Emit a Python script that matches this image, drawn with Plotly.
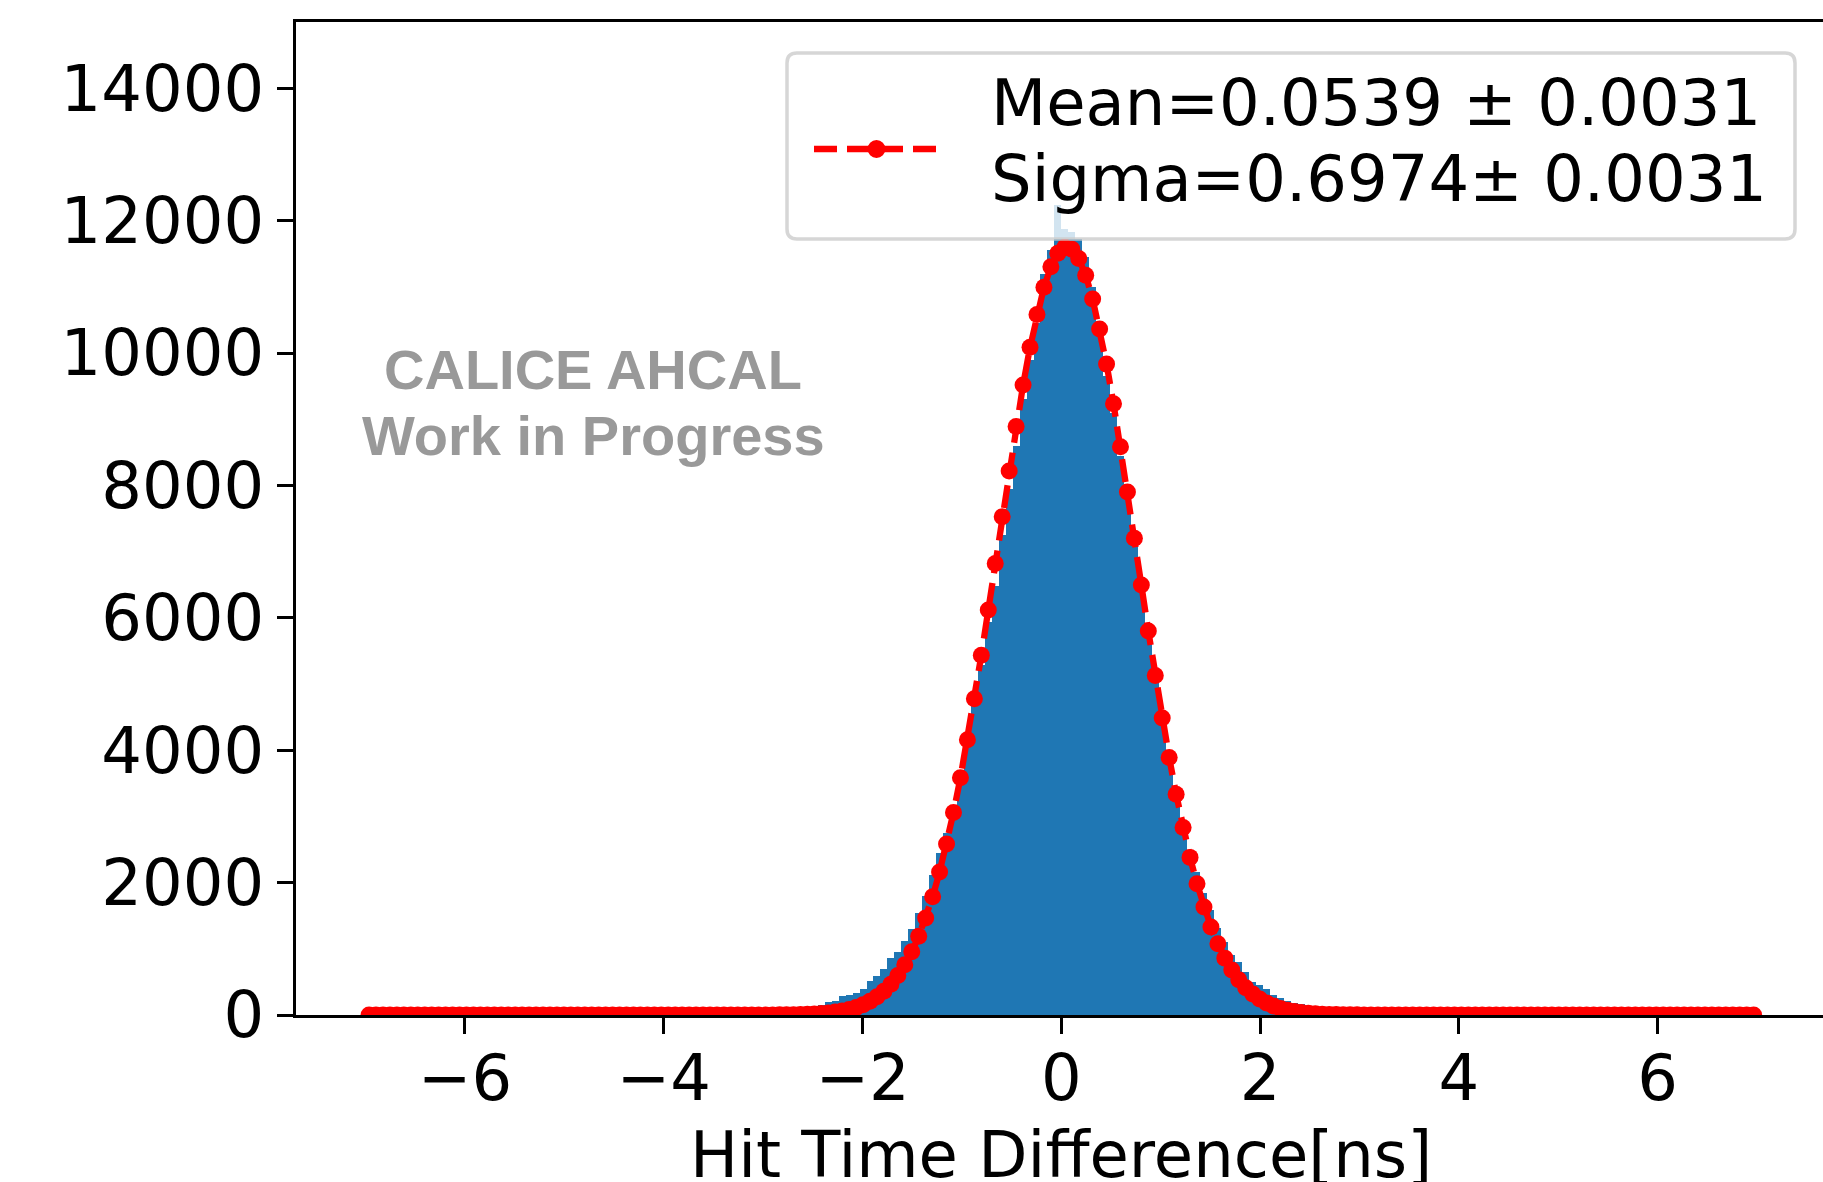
import plotly.graph_objects as go

# ---------------------------------------------------------------------------
# Data: hit time difference histogram (200 bins on [-7, 7] ns) and Gaussian fit
# ---------------------------------------------------------------------------
BIN_LO, BIN_HI, N_BINS = -7.0, 7.0, 200

hist_counts = [
    0, 0, 0, 0, 0, 0, 0, 0, 0, 0,
    0, 0, 0, 0, 0, 0, 1, 0, 0, 1,
    0, 1, 1, 1, 1, 2, 2, 2, 3, 3,
    4, 4, 5, 5, 6, 6, 7, 8, 8, 9,
    10, 11, 12, 13, 15, 16, 18, 20, 22, 25,
    28, 31, 35, 39, 44, 49, 55, 62, 70, 79,
    88, 98, 108, 120, 135, 155, 195, 212, 285, 300,
    335, 390, 515, 590, 690, 856, 955, 1118, 1294, 1536,
    1797, 2115, 2442, 2750, 3150, 3600, 4050, 4700, 5290, 5940,
    6480, 7250, 7950, 8600, 9300, 9900, 10450, 11200, 11550, 12240,
    11880, 11830, 11720, 11450, 11000, 10300, 9650, 9100, 8450, 7800,
    7100, 6420, 5750, 5100, 4480, 3900, 3360, 2880, 2450, 2165,
    1850, 1586, 1320, 1100, 906, 806, 650, 505, 450, 400,
    300, 250, 205, 180, 160, 135, 112, 95, 80, 68,
    58, 50, 43, 37, 32, 28, 24, 21, 18, 16,
    14, 12, 11, 10, 9, 8, 7, 6, 6, 5,
    5, 4, 4, 3, 3, 3, 2, 2, 2, 2,
    1, 1, 1, 1, 0, 1, 1, 0, 1, 0,
    0, 1, 0, 0, 0, 1, 0, 0, 0, 0,
    0, 0, 0, 0, 0, 0, 0, 0, 0, 0,
]

fit_values = [
    0, 0, 0, 0, 0, 0, 0, 0, 0, 0,
    0, 0, 0, 0, 0, 0, 0, 0, 0, 0,
    0, 0, 0, 0, 0, 0, 0, 0, 0, 0,
    0, 0, 0, 0, 0, 0, 0, 0, 0, 0,
    0, 0, 0, 0, 0, 0, 0, 0, 0, 0,
    0, 0, 0, 0, 0, 0, 0, 0, 1, 2,
    3, 5, 7, 11, 15, 22, 31, 44, 61, 84,
    115, 155, 207, 274, 359, 465, 597, 758, 954, 1188,
    1464, 1787, 2159, 2582, 3058, 3584, 4159, 4778, 5434, 6118,
    6819, 7525, 8219, 8889, 9516, 10086, 10582, 10992, 11303, 11506,
    11596, 11569, 11426, 11173, 10815, 10364, 9832, 9234, 8585, 7902,
    7200, 6495, 5800, 5128, 4488, 3889, 3336, 2832, 2381, 1982,
    1632, 1331, 1075, 859, 680, 533, 413, 317, 241, 181,
    135, 100, 73, 53, 38, 27, 19, 13, 9, 6,
    4, 3, 2, 1, 0, 0, 0, 0, 0, 0,
    0, 0, 0, 0, 0, 0, 0, 0, 0, 0,
    0, 0, 0, 0, 0, 0, 0, 0, 0, 0,
    0, 0, 0, 0, 0, 0, 0, 0, 0, 0,
    0, 0, 0, 0, 0, 0, 0, 0, 0, 0,
    0, 0, 0, 0, 0, 0, 0, 0, 0, 0,
]

x_tick_vals = [-6, -4, -2, 0, 2, 4, 6]
x_tick_text = ["\u22126", "\u22124", "\u22122", "0", "2", "4", "6"]
y_tick_vals = [0, 2000, 4000, 6000, 8000, 10000, 12000, 14000]
y_tick_text = ["0", "2000", "4000", "6000", "8000", "10000", "12000", "14000"]

fit_mean, fit_mean_err = "0.0539", "0.0031"
fit_sigma, fit_sigma_err = "0.6974", "0.0031"
x_title = "Hit Time Difference[ns]"
watermark_lines = ["CALICE AHCAL", "Work in Progress"]

bin_width = (BIN_HI - BIN_LO) / N_BINS
bin_centers = [BIN_LO + (i + 0.5) * bin_width for i in range(N_BINS)]

# ---------------------------------------------------------------------------
# Page geometry (pixels)
# ---------------------------------------------------------------------------
W, H = 1823, 1182
ML, MR, MT, MB = 296, 0, 22, 167
PW, PH = W - ML - MR, H - MT - MB
FONT = "DejaVu Sans"
FS = 64


def px_x(x):
    return (x - ML) / PW


def px_y(y):
    return (MT + PH - y) / PH


fig = go.Figure()

fig.add_trace(go.Bar(
    x=bin_centers, y=hist_counts, width=bin_width,
    marker=dict(color="#1f77b4", line=dict(width=0)),
    showlegend=False, hoverinfo="skip",
))

fig.add_trace(go.Scatter(
    x=bin_centers, y=fit_values, mode="lines+markers",
    line=dict(color="#ff0000", width=6.3, dash="23px,10px"),
    marker=dict(color="#ff0000", size=17, line=dict(width=0)),
    showlegend=False, hoverinfo="skip",
))

# ---------------------------------------------------------------------------
# Legend box drawn by hand (rounded frame, translucent white face)
# ---------------------------------------------------------------------------
bx0, by0, bx1, by1, rad = 787, 53, 1795, 239, 10


def pt(x, y):
    return f"{px_x(x):.6f},{px_y(y):.6f}"


frame_path = (
    f"M{pt(bx0 + rad, by0)} L{pt(bx1 - rad, by0)} Q{pt(bx1, by0)} {pt(bx1, by0 + rad)} "
    f"L{pt(bx1, by1 - rad)} Q{pt(bx1, by1)} {pt(bx1 - rad, by1)} "
    f"L{pt(bx0 + rad, by1)} Q{pt(bx0, by1)} {pt(bx0, by1 - rad)} "
    f"L{pt(bx0, by0 + rad)} Q{pt(bx0, by0)} {pt(bx0 + rad, by0)} Z"
)

handle_r = 9
shapes = [
    dict(type="path", path=frame_path, xref="paper", yref="paper", layer="above",
         fillcolor="rgba(255,255,255,0.8)",
         line=dict(color="rgba(204,204,204,0.8)", width=3.5)),
    dict(type="line", xref="paper", yref="paper", layer="above",
         x0=px_x(814), x1=px_x(939), y0=px_y(149), y1=px_y(149),
         line=dict(color="#ff0000", width=6.3, dash="23px,10px")),
    dict(type="circle", xref="paper", yref="paper", layer="above",
         x0=px_x(876.5 - handle_r), x1=px_x(876.5 + handle_r),
         y0=px_y(149 + handle_r), y1=px_y(149 - handle_r),
         fillcolor="#ff0000", line=dict(width=0)),
]

annotations = [
    dict(text=f"Mean={fit_mean} \u00b1 {fit_mean_err}", xref="paper", yref="paper",
         x=px_x(989), y=px_y(103), xanchor="left", yanchor="middle", showarrow=False,
         font=dict(family=FONT, size=FS, color="black")),
    dict(text=f"Sigma={fit_sigma}\u00b1 {fit_sigma_err}", xref="paper", yref="paper",
         x=px_x(989), y=px_y(178.5), xanchor="left", yanchor="middle", showarrow=False,
         font=dict(family=FONT, size=FS, color="black")),
    dict(text=watermark_lines[0], xref="paper", yref="paper",
         x=px_x(593), y=px_y(370), xanchor="center", yanchor="middle", showarrow=False,
         font=dict(family="Liberation Sans", size=56, color="#999999", weight="bold")),
    dict(text=watermark_lines[1], xref="paper", yref="paper",
         x=px_x(593), y=px_y(436), xanchor="center", yanchor="middle", showarrow=False,
         font=dict(family="Liberation Sans", size=56, color="#999999", weight="bold")),
    dict(text=x_title, xref="x", yref="paper",
         x=0, y=px_y(1155), xanchor="center", yanchor="middle", showarrow=False,
         font=dict(family=FONT, size=FS, color="black")),
]

fig.update_layout(
    width=W, height=H,
    margin=dict(l=ML, r=MR, t=MT, b=MB, pad=0),
    paper_bgcolor="white", plot_bgcolor="white",
    bargap=0, showlegend=False,
    font=dict(family=FONT, size=FS, color="black"),
    shapes=shapes, annotations=annotations,
    xaxis=dict(
        range=[-7.7, 7.663], showgrid=False, zeroline=False,
        showline=True, linecolor="black", linewidth=3, mirror=True,
        ticks="outside", ticklen=16, tickwidth=2.5, tickcolor="black",
        tickvals=x_tick_vals, ticktext=x_tick_text,
        tickfont=dict(family=FONT, size=FS, color="black"),
        ticklabelstandoff=-11, automargin=False,
    ),
    yaxis=dict(
        range=[0, 15000], showgrid=False, zeroline=False,
        showline=True, linecolor="black", linewidth=3, mirror=False,
        ticks="outside", ticklen=16, tickwidth=2.5, tickcolor="black",
        tickvals=y_tick_vals, ticktext=y_tick_text,
        tickfont=dict(family=FONT, size=FS, color="black"),
        ticklabelstandoff=0, automargin=False,
    ),
)

fig.write_html("out.html")
